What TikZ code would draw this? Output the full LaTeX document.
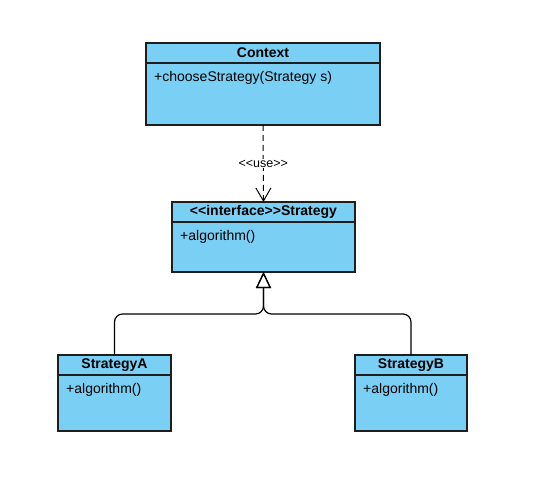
\documentclass[tikz,border=0pt]{standalone}
\usepackage{fontspec}
\setmainfont{Liberation Sans}
\usetikzlibrary{positioning, arrows.meta}
\definecolor{classblue}{HTML}{7ACFF5}
\definecolor{classline}{HTML}{1E1E1E}
\newcommand\dlt{<\kern0pt<}
\newcommand\dgt{>\kern0pt>}
\tikzset{
  head/.style={draw=classline, fill=classblue, line width=1.2pt, minimum height=20pt,
    inner sep=0pt, outer sep=0pt, anchor=north west, font=\fontsize{14}{16}\selectfont\bfseries},
  body/.style={draw=classline, fill=classblue, line width=1.2pt, inner sep=0pt,
    outer sep=0pt, anchor=north west},
  optext/.style={anchor=west, inner sep=0pt, font=\fontsize{14}{16}\selectfont},
  dep/.style={dash pattern=on 6pt off 4pt, line width=1pt, -{Straight Barb[length=13pt, width=15pt]}},
  realize/.style={line width=1.2pt, rounded corners=8pt, -{Triangle[open, length=16pt, width=15pt]}},
  lbl/.style={fill=white, inner sep=1pt, font=\fontsize{12.5}{14}\selectfont}
}

\begin{document}
\begin{tikzpicture}[x=1pt,y=-1pt]
  \useasboundingbox (0,0) rectangle (535,486);
  \foreach \n/\x/\y/\w/\h/\cname/\oper in {
    ctx/146/43/234/62/Context/{+chooseStrategy(Strategy s)},
    strategy/172/202/183/50/{\dlt interface\dgt Strategy}/{+algorithm()},
    stratA/58/355/113/56/StrategyA/{+algorithm()},
    stratB/355/355/112/56/StrategyB/{+algorithm()}
  }{
    % Header with class name
    \node[head, minimum width=\w pt] (\n) at (\x,\y) {\cname};
    % Body below header
    \node[body, minimum width=\w pt, minimum height=\h pt] (\n-body) at (\n.south west) {};
    % Operation
    \node[optext] (\n-op) at ([xshift=8pt, yshift=-15pt]\n-body.north west) {\oper};
  }
  % Usage
  \draw[dep] (ctx-body.south) -- node[lbl] {\dlt use\dgt} (strategy.north);
  % Realisation
  \coordinate (fork) at (263.5,314);
  \draw[realize] (stratA.north) -- (stratA.north |- fork) -- (fork) -- (strategy-body.south);
  \draw[realize] (stratB.north) -- (stratB.north |- fork) -- (fork) -- (strategy-body.south);
\end{tikzpicture}
\end{document}
